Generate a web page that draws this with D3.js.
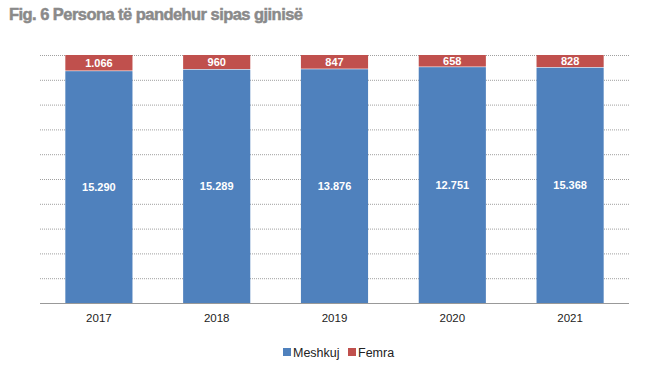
<!DOCTYPE html>
<html><head><meta charset="utf-8">
<script src="https://cdn.jsdelivr.net/npm/d3@7"></script>
<style>body{margin:0;background:#fff;}svg{display:block;}</style>
</head><body>
<script>
const years = ["2017","2018","2019","2020","2021"];
const meshkuj = [15290, 15289, 13876, 12751, 15368];
const femra = [1066, 960, 847, 658, 828];
const seriesNames = ["Meshkuj","Femra"];
const colors = ["#4f81bd","#c0504d"];
const title = "Fig. 6 Persona të pandehur sipas gjinisë";

const W=654,H=381;
const svg=d3.select("body").append("svg").attr("width",W).attr("height",H);
const m={l:40,r:25,t:55,b:78};
const x=d3.scaleBand().domain(years).range([m.l,W-m.r]).paddingInner(0.43).paddingOuter(0.215);
const y=d3.scaleLinear().domain([0,1]).range([H-m.b,m.t]);
const fmt=v=>d3.format(",")(v).replace(/,/g,".");

svg.append("text").attr("x",9).attr("y",20).text(title)
 .attr("font-family","Liberation Sans, Arial, sans-serif").attr("font-weight","bold")
 .attr("font-size",16.5).attr("letter-spacing","-0.55").attr("fill","#8a8a8a")
 .attr("stroke","#8a8a8a").attr("stroke-width",0.5);

// gridlines
const ticks=d3.range(1,11).map(i=>i/10);
svg.append("g").selectAll("line").data(ticks).join("line")
 .attr("x1",m.l).attr("x2",W-m.r).attr("y1",d=>y(d)+0.5).attr("y2",d=>y(d)+0.5)
 .attr("stroke","#a0a0a0").attr("stroke-dasharray","1,1").attr("stroke-width",1);

const data=years.map((yr,i)=>({yr,m:meshkuj[i],f:femra[i],t:meshkuj[i]+femra[i]}));
const g=svg.append("g");
data.forEach(d=>{
  const pm=d.m/d.t;
  g.append("rect").attr("x",x(d.yr)).attr("width",x.bandwidth())
   .attr("y",y(pm)).attr("height",y(0)-y(pm)).attr("fill",colors[0]);
  g.append("rect").attr("x",x(d.yr)).attr("width",x.bandwidth())
   .attr("y",y(1)).attr("height",y(pm)-y(1)-0.6).attr("fill",colors[1]);
  g.append("text").attr("x",x(d.yr)+x.bandwidth()/2).attr("y",(y(pm)+y(0))/2+4)
   .attr("text-anchor","middle").attr("fill","#fff").attr("font-weight","bold")
   .attr("font-family","Liberation Sans, Arial, sans-serif").attr("font-size",11).text(fmt(d.m));
  g.append("text").attr("x",x(d.yr)+x.bandwidth()/2).attr("y",(y(pm)+y(1))/2+4)
   .attr("text-anchor","middle").attr("fill","#fff").attr("font-weight","bold")
   .attr("font-family","Liberation Sans, Arial, sans-serif").attr("font-size",11).text(fmt(d.f));
});

// axis
const ax=svg.append("g").attr("transform",`translate(0,${y(0)})`).call(d3.axisBottom(x).tickSize(0).tickPadding(11));
ax.select(".domain").attr("stroke","#999").attr("d",`M${m.l},0.5H${W-m.r}`);
ax.selectAll("text").attr("font-family","Liberation Sans, Arial, sans-serif").attr("font-size",11.5).attr("fill","#222");

// legend
const lg=svg.append("g").attr("font-family","Liberation Sans, Arial, sans-serif").attr("font-size",12.5);
const lx=[283,348];
seriesNames.forEach((s,i)=>{
  lg.append("rect").attr("x",lx[i]).attr("y",348).attr("width",8).attr("height",8).attr("fill",colors[i]);
  lg.append("text").attr("x",lx[i]+10).attr("y",356.5).text(s).attr("fill","#222");
});
</script>
</body></html>
